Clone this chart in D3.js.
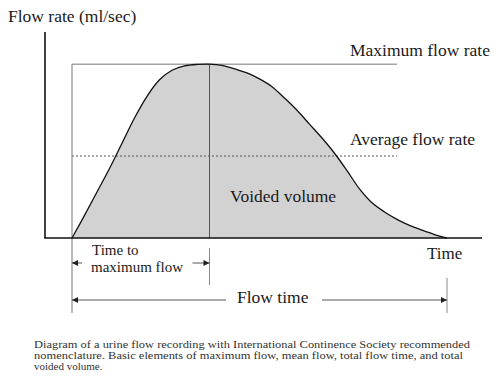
<!DOCTYPE html>
<html><head><meta charset="utf-8">
<script src="https://cdn.jsdelivr.net/npm/d3@7"></script>
<style>
body{margin:0;background:#fff;}
svg{display:block;}
text{font-family:"Liberation Serif","Times New Roman",serif;fill:#1a1a1a;}
</style></head>
<body>
<script>
// Data (arbitrary units: time in s, flow in ml/sec)
const times = [0,1,2,3,4,5,6,7,8,9,10,11,12,13,14,15,16,17,18,19,20,21,22,23,24,25,26,27,28,29,30];
const flows = [0,2.6,5.3,8.0,10.9,13.8,16.3,18.2,19.3,19.8,19.97,20,19.85,19.45,19.0,18.3,17.4,16.1,14.7,13.1,11.5,9.75,7.75,5.65,4.05,3.0,2.15,1.45,0.9,0.4,0];
const maxFlow = 20;
const avgFlow = 9.43;
const timeToMax = 11;
const flowTime = 30;
const maxLineEnd = 26;
const xDomain = [-2.16, 32.8];
const yDomain = [0, 23.7];
const captionLines = [
  "Diagram of a urine flow recording with International Continence Society recommended",
  "nomenclature. Basic elements of maximum flow, mean flow, total flow time, and total",
  "voided volume."
];
const captionWidths = [436, 429, null];

const W = 500, H = 382;
const svg = d3.select("body").append("svg").attr("width", W).attr("height", H);

const x = d3.scaleLinear().domain(xDomain).range([45, 482]);
const y = d3.scaleLinear().domain(yDomain).range([238, 32]);

const data = times.map((t, i) => ({t, f: flows[i]}));

const defs = svg.append("defs");
defs.append("marker").attr("id","arr").attr("viewBox","0 0 10 10").attr("refX",10).attr("refY",5)
  .attr("markerWidth",8).attr("markerHeight",6).attr("markerUnits","userSpaceOnUse").attr("orient","auto-start-reverse")
  .append("path").attr("d","M0,0 L10,5 L0,10 Z").attr("fill","#222");

// area fill
svg.append("path").datum(data)
  .attr("d", d3.area().x(d => x(d.t)).y0(y(0)).y1(d => y(d.f)).curve(d3.curveCatmullRom))
  .attr("fill", "#d2d2d2");

// maximum flow line
svg.append("line").attr("x1", x(0)).attr("x2", x(maxLineEnd)).attr("y1", y(maxFlow)).attr("y2", y(maxFlow))
  .attr("stroke", "#777").attr("stroke-width", 1);
// average flow dashed line
svg.append("line").attr("x1", x(0)).attr("x2", x(maxLineEnd)).attr("y1", y(avgFlow)).attr("y2", y(avgFlow))
  .attr("stroke", "#555").attr("stroke-width", 1).attr("stroke-dasharray", "2,2");

// left vertical at t=0
svg.append("line").attr("x1", x(0)).attr("x2", x(0)).attr("y1", y(maxFlow)).attr("y2", 313)
  .attr("stroke", "#777").attr("stroke-width", 1);
// vertical at time to max
svg.append("line").attr("x1", x(timeToMax)).attr("x2", x(timeToMax)).attr("y1", y(maxFlow)).attr("y2", y(0))
  .attr("stroke", "#555").attr("stroke-width", 1);
svg.append("line").attr("x1", x(timeToMax)).attr("x2", x(timeToMax)).attr("y1", 248).attr("y2", 285)
  .attr("stroke", "#888").attr("stroke-width", 1);
// vertical at flow end
svg.append("line").attr("x1", x(flowTime)).attr("x2", x(flowTime)).attr("y1", 278).attr("y2", 313)
  .attr("stroke", "#888").attr("stroke-width", 1);

// curve
svg.append("path").datum(data)
  .attr("d", d3.line().x(d => x(d.t)).y(d => y(d.f)).curve(d3.curveCatmullRom))
  .attr("fill", "none").attr("stroke", "#111").attr("stroke-width", 1.3);

// axes
svg.append("line").attr("x1", x(xDomain[0])).attr("x2", x(xDomain[0])).attr("y1", y(yDomain[1])).attr("y2", y(0))
  .attr("stroke", "#111").attr("stroke-width", 1.6);
svg.append("line").attr("x1", x(xDomain[0]) - 0.8).attr("x2", x(xDomain[1])).attr("y1", y(0)).attr("y2", y(0))
  .attr("stroke", "#111").attr("stroke-width", 1.6);

// arrows
function arrow(x1, x2, yy) {
  svg.append("line").attr("x1", x1).attr("x2", x2).attr("y1", yy).attr("y2", yy)
    .attr("stroke", "#555").attr("stroke-width", 1).attr("marker-end", "url(#arr)");
}
arrow(x(0) + 10, x(0), 263);
arrow(x(timeToMax) - 17, x(timeToMax), 263);
arrow(226, x(0), 300);
arrow(322, x(flowTime), 300);

// labels
function label(txt, xx, yy, size) {
  svg.append("text").attr("x", xx).attr("y", yy).attr("font-size", size).text(txt);
}
label("Flow rate (ml/sec)", 8, 22, 17.5);
label("Maximum flow rate", 350, 56, 17.5);
label("Average flow rate", 350, 145, 17.5);
label("Voided volume", 230, 202, 17.5);
label("Time", 427, 259, 17);
label("Time to", 92, 255, 15);
label("maximum flow", 91, 272, 15);
label("Flow time", 237, 303, 17.5);

// caption
svg.append("g").selectAll("text").data(captionLines).join("text")
  .attr("x", 34).attr("y", (d, i) => 347.5 + i * 11.4)
  .attr("font-size", 11).style("fill", "#333")
  .each(function(d, i) {
    if (captionWidths[i]) d3.select(this).attr("textLength", captionWidths[i]).attr("lengthAdjust", "spacingAndGlyphs");
  })
  .text(d => d);
</script>
</body></html>
